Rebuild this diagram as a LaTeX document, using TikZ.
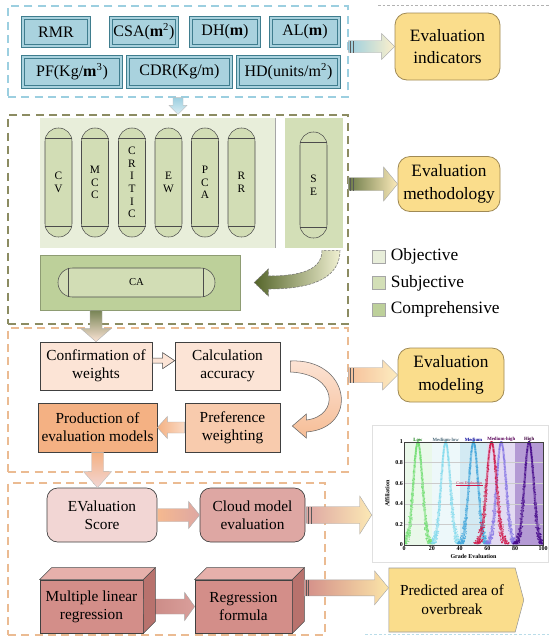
\documentclass[tikz,border=0pt]{standalone}
\usepackage{fontspec}
\setmainfont{Liberation Serif}
\usetikzlibrary{calc,shapes.symbols}
\definecolor{indfill}{HTML}{A9D2DE}
\definecolor{inddraw}{HTML}{3F7D8E}
\definecolor{bluedash}{HTML}{9CCFE0}
\definecolor{olivedash}{HTML}{8C8C62}
\definecolor{peachdash}{HTML}{EBBB92}
\definecolor{yel}{HTML}{FADD8C}
\definecolor{yeldraw}{HTML}{A08A55}
\definecolor{objfill}{HTML}{E8EEDA}
\definecolor{subfill}{HTML}{D3DFB7}
\definecolor{compfill}{HTML}{BDD09A}
\definecolor{capfill}{HTML}{D2DDB5}
\definecolor{lpeach}{HTML}{FCE4D6}
\definecolor{mpeach}{HTML}{F8CBAD}
\definecolor{dpeach}{HTML}{F4B183}
\definecolor{lpink}{HTML}{F2D6D4}
\definecolor{mpink}{HTML}{DEA7A3}
\definecolor{boxfront}{HTML}{D38E89}
\definecolor{boxtop}{HTML}{E6B0AB}
\definecolor{boxside}{HTML}{B8726D}
\definecolor{dolive}{HTML}{55652A}
\definecolor{band1}{HTML}{EAF8EA}
\definecolor{band2}{HTML}{EDF8FA}
\definecolor{band3}{HTML}{D3EAF3}
\definecolor{band4}{HTML}{E3DBF2}
\definecolor{band5}{HTML}{B49AD4}
\definecolor{cgreen}{HTML}{74E074}
\definecolor{ccyan}{HTML}{86DCEE}
\definecolor{cblue}{HTML}{45A8DC}
\definecolor{cred}{HTML}{D0184A}
\definecolor{clav}{HTML}{8878E6}
\definecolor{cpurp}{HTML}{480C8C}
\newcommand\hblockarrow[6]{%
  \path[#6] let \p1=#1, \p2=#2 in
   ({\x1},{\y1+#3*0.75pt}) -- ({\x2-(#5)*0.75pt},{\y1+#3*0.75pt}) -- ({\x2-(#5)*0.75pt},{\y1+#4*0.75pt}) -- ({\x2},{\y1}) -- ({\x2-(#5)*0.75pt},{\y1-#4*0.75pt}) -- ({\x2-(#5)*0.75pt},{\y1-#3*0.75pt}) -- ({\x1},{\y1-#3*0.75pt}) -- cycle;}
\newcommand\vblockarrow[6]{%
  \path[#6] let \p1=#1, \p2=#2 in
   ({\x1-#3*0.75pt},{\y1}) -- ({\x1-#3*0.75pt},{\y2+(#5)*0.75pt}) -- ({\x1-#4*0.75pt},{\y2+(#5)*0.75pt}) -- ({\x1},{\y2}) -- ({\x1+#4*0.75pt},{\y2+(#5)*0.75pt}) -- ({\x1+#3*0.75pt},{\y2+(#5)*0.75pt}) -- ({\x1+#3*0.75pt},{\y1}) -- cycle;}
\newcommand\arrowbars[2]{%
  \draw[black!65, line width=0.5pt] let \p1=#1 in ({\x1+1.2pt},{\y1-#2*0.75pt}) -- ({\x1+1.2pt},{\y1+#2*0.75pt}) ({\x1+3.2pt},{\y1-#2*0.75pt}) -- ({\x1+3.2pt},{\y1+#2*0.75pt});}
\begin{document}
\begin{tikzpicture}[x=0.75pt,y=-0.75pt,
  sz/.style 2 args={minimum width=#1*0.75pt, minimum height=#2*0.75pt},
  frame/.style={dash pattern=on 6pt off 4pt, line width=0.9pt, inner sep=0pt},
  ind/.style={draw=inddraw, double=indfill, double distance=2pt, line width=0.5pt, fill=indfill, inner sep=0pt, font=\fontsize{12}{14}\selectfont},
  yelbox/.style={draw=yeldraw, fill=yel, rounded corners=9pt, line width=0.6pt, align=center, inner sep=0pt, font=\fontsize{13}{17}\selectfont},
  capsule/.style={draw=black!70, fill=capfill, rounded corners=10pt, sz={27}{109}, inner sep=0pt, line width=0.4pt, align=center, font=\fontsize{8.5}{9.5}\selectfont},
  legsq/.style={draw=black!35, sz={13}{13}, inner sep=0pt},
  legtxt/.style={anchor=west, inner sep=0pt, font=\fontsize{13}{15}\selectfont},
  proc/.style={draw=black!75, line width=0.5pt, inner sep=0pt, align=center, font=\fontsize{11.5}{13.5}\selectfont},
  ticklab/.style={inner sep=0.6pt, font=\fontsize{4.5}{5}\selectfont\bfseries},
  toplab/.style={inner sep=0.4pt, font=\fontsize{3.6}{4}\selectfont\bfseries}]
\useasboundingbox (0,0) rectangle (549,637);
\fill[white] (0,0) rectangle (549,637);
% faint outer remnants
\draw[black!30, dash pattern=on 2pt off 1.5pt, line width=0.4pt] (378,5) -- (549,5);
\draw[bluedash!70, dash pattern=on 2pt off 1.5pt, line width=0.6pt] (365,634) -- (549,634);
% frames
\node[frame, draw=bluedash, sz={340}{91}] (box1) at (178,51.5) {};
\node[frame, draw=olivedash, sz={340}{209}] (box2) at (178,219.5) {};
\node[frame, draw=peachdash, sz={340}{144}] (box3) at (178,400) {};
\node[frame, draw=peachdash, sz={317}{152}] (box4) at (166.5,559) {};
% indicators
\node[ind, sz={66}{28}] (rmr) at (56,32) {RMR};
\node[ind, sz={66}{28}] (csa) at (144,32) {CSA(\textbf{m}\textsuperscript{2})};
\node[ind, sz={68}{28}] (dh) at (225,32) {DH(\textbf{m})};
\node[ind, sz={68}{28}] (al) at (305,32) {AL(\textbf{m})};
\node[ind, sz={98}{30}] (pf) at (72,72) {PF(Kg/\textbf{m}\textsuperscript{3})};
\node[ind, sz={103}{30}] (cdr) at (179.5,72) {CDR(Kg/m)};
\node[ind, sz={101}{30}] (hd) at (288.5,72) {HD(units/m\textsuperscript{2})};
% yellow result boxes
\node[yelbox, sz={105}{67}] (evind) at (447.5,46.5) {Evaluation\\indicators};
\node[yelbox, sz={102}{55}] (evmeth) at (449,184) {Evaluation\\methodology};
\node[yelbox, sz={106}{54}] (evmod) at (451,375) {Evaluation\\modeling};
% methodology panels
\node[fill=objfill, inner sep=0pt, sz={235}{130}] (objpanel) at (157.5,183) {};
\draw[black!35, line width=0.4pt] (objpanel.north east) -- (objpanel.south east);
\node[fill=subfill, inner sep=0pt, sz={58}{130}] (sepanel) at (314,183) {};
\node[fill=compfill, draw=compfill!75!black, line width=0.4pt, inner sep=0pt, sz={200}{55}] (capanel) at (140,282.5) {};
\foreach \nm/\cx/\txt in {cv/58.5/{C\\V}, mcc/95/{M\\C\\C}, critic/132/{C\\R\\I\\T\\I\\C}, ew/168.5/{E\\W}, pca/205/{P\\C\\A}, rr/241.5/{R\\R}}{
  \node[capsule] (\nm) at (\cx,182.5) {\txt};
  \draw[black!70, line width=0.4pt] ([yshift=-8.25pt]\nm.north west) -- ([yshift=-8.25pt]\nm.north east)
     ([yshift=8.25pt]\nm.south west) -- ([yshift=8.25pt]\nm.south east);
}
\node[capsule, sz={27}{106}] (se) at (313.5,185) {S\\E};
\draw[black!70, line width=0.4pt] ([yshift=-8.25pt]se.north west) -- ([yshift=-8.25pt]se.north east)
     ([yshift=8.25pt]se.south west) -- ([yshift=8.25pt]se.south east);
\node[capsule, sz={157}{29}, rounded corners=10.8pt, font=\fontsize{8}{9}\selectfont] (ca) at (136.5,282.5) {CA};
\draw[black!70, line width=0.4pt] ([xshift=8pt]ca.north west) -- ([xshift=8pt]ca.south west)
     ([xshift=-9pt]ca.north east) -- ([xshift=-9pt]ca.south east);
% curved arrow SE -> CA
\shade[left color=dolive, right color=white!88!olive, draw=black!55, dash pattern=on 2pt off 1pt, line width=0.4pt]
  ($(sepanel.south)+(8,2)$) .. controls (322,268) and (305,276) .. ($(capanel.east)+(28,-6.5)$)
  -- ($(capanel.east)+(28,-13.5)$) -- ($(capanel.east)+(14,0)$) -- ($(capanel.east)+(28,13.5)$)
  -- ($(capanel.east)+(28,6.5)$) .. controls (318,289) and (340,275) .. ($(sepanel.south)+(26,2)$) -- cycle;
% legend
\node[legsq, fill=objfill] (lobj) at (378.5,256.5) {};
\node[legtxt] (tobj) at ([xshift=4pt]lobj.east) {Objective};
\node[legsq, fill=subfill] (lsub) at (378.5,283) {};
\node[legtxt] (tsub) at ([xshift=4pt]lsub.east) {Subjective};
\node[legsq, fill=compfill] (lcomp) at (378.5,309.5) {};
\node[legtxt] (tcomp) at ([xshift=4pt]lcomp.east) {Comprehensive};
% modeling
\node[proc, fill=lpeach, sz={112}{48}] (conf) at (96,366) {Confirmation of\\weights};
\node[proc, fill=lpeach, sz={105}{48}] (calc) at (227.5,366) {Calculation\\accuracy};
\node[proc, fill=dpeach, sz={119}{49}] (prod) at (97.5,427.5) {Production of\\evaluation models};
\node[proc, fill=mpeach, sz={95}{49}] (pref) at (232.5,427.5) {Preference\\weighting};
\hblockarrow{([yshift=4pt]conf.east)}{([yshift=4pt]calc.west)}{2.5}{8}{12}{fill=lpeach, draw=black!70, line width=0.4pt}
\shade[top color=lpeach, bottom color=dpeach!85, draw=black!60, line width=0.4pt]
  ($(calc.east)+(10,-5)$) .. controls (350,358) and (360,428) .. ($(pref.east)+(26,4.5)$)
  -- ($(pref.east)+(26,10.5)$) -- ($(pref.east)+(12,-1.5)$) -- ($(pref.east)+(26,-13.5)$)
  -- ($(pref.east)+(26,-7.5)$) .. controls (340,416) and (338,374) .. ($(calc.east)+(10,6)$) -- cycle;
\hblockarrow{(pref.west)}{(prod.east)}{5.5}{11}{-10}{left color=dpeach, right color=mpeach!70!white, draw=black!30, line width=0.3pt}
% box4 content
\node[proc, fill=lpink, rounded corners=8pt, sz={110}{54}] (score) at (102,515) {EValuation\\Score};
\node[proc, fill=mpink, rounded corners=8pt, sz={105}{54}] (cloud) at (252.5,515) {Cloud model\\evaluation};
\node[proc, fill=boxfront, sz={103}{53}] (mlr) at (91.5,606.5) {Multiple linear\\regression};
\node[proc, fill=boxfront, sz={97}{53}] (rf) at (243.5,606.5) {Regression\\formula};
\hblockarrow{(score.east)}{(cloud.west)}{6.5}{13.5}{11}{left color=dpeach!90, right color=mpink, draw=black!30, line width=0.3pt}
\hblockarrow{(mlr.east)}{(rf.west)}{7.5}{14}{10}{left color=boxfront!95!black, right color=boxfront!85!white, draw=black!35, line width=0.3pt}
\foreach \bx in {mlr,rf}{
  \filldraw[fill=boxtop, draw=black!70, line width=0.4pt] (\bx.north west) -- ++(12,-12) -- ($(\bx.north east)+(12,-12)$) -- (\bx.north east) -- cycle;
  \filldraw[fill=boxside, draw=black!70, line width=0.4pt] (\bx.north east) -- ++(12,-12) -- ($(\bx.south east)+(12,-12)$) -- (\bx.south east) -- cycle;
}
\node[signal, signal to=east, signal pointer angle=150, fill=yel, draw=black!40, line width=0.4pt, inner sep=0pt, sz={135}{64}, align=center, font=\fontsize{11.5}{14}\selectfont] (pred) at (452,600) {Predicted area of\\overbreak};
% chart
\node[draw=black!12, fill=white, inner sep=0pt, sz={176}{137}] (chart) at (460,493.5) {};
\begin{scope}[shift={(404,545)}, x=1.0425pt, y=77.25pt]
  \fill[band1] (0,0) rectangle (20,1);
  \fill[band2] (20,0) rectangle (40,1);
  \fill[band3] (40,0) rectangle (60,1);
  \fill[band4] (60,0) rectangle (80,1);
  \fill[band5] (80,0) rectangle (100,1);
  \foreach \g in {0.2,0.4,0.6,0.8} \draw[black!20, line width=0.2pt] (0,\g) -- (100,\g);
  \begin{scope}
    \clip (0,-0.02) rectangle (100,1.02);
    \pgfmathsetseed{11}
    \foreach \ex/\en/\he/\col in {10/3.3/0.8/cgreen, 30/3.3/0.8/ccyan, 50/3.3/0.8/cblue, 70/3.4/0.8/clav, 63/3.6/1.0/cred, 90/3.3/0.8/cpurp}{
      \draw[\col, line width=1.6pt, opacity=0.55, domain=-3:3, samples=60] plot ({\ex+\en*\x},{exp(-\x*\x/2)});
      \foreach \i in {1,...,420}{
        \pgfmathsetmacro\cdt{3*rand}
        \pgfmathsetmacro\cdx{\ex+(\en+\he*rand)*\cdt}
        \pgfmathsetmacro\cdy{exp(-\cdt*\cdt/2)}
        \fill[\col, opacity=0.8] (\cdx,\cdy) circle[radius=0.5pt];
      }
    }
  \end{scope}
  \draw[black!75, line width=0.4pt] (0,0) rectangle (100,1);
  \foreach \v in {0,20,40,60,80,100} \node[ticklab, below] at (\v,0) {\v};
  \foreach \v in {0,0.2,0.4,0.6,0.8,1} \node[ticklab, left] at (0,\v) {\v};
  \node[ticklab, rotate=90] at (-12,0.5) {Affiliation};
  \node[ticklab] at (50,-0.11) {Grade Evaluation};
  \node[toplab, above, text=green!45!black] at (10,1) {Low};
  \node[toplab, above, text=cyan!40!black] at (30,1) {Medium-low};
  \node[toplab, above, text=blue!60!black] at (50,1) {Medium};
  \node[toplab, above, text=violet!70!black] at (70,1) {Medium-high};
  \node[toplab, above, text=violet!50!black] at (90,1) {High};
  \node[inner sep=0.3pt, font=\fontsize{3}{3}\selectfont, text=cred] (costlab) at (47,0.6) {Cost Evaluation};
  \draw[cred, line width=0.2pt] (costlab.south west) -- (costlab.south east);
\end{scope}
% block arrows to results
\hblockarrow{(box1.east |- evind.west)}{(evind.west)}{6}{13}{13}{left color=bluedash, right color=yel!45!white, draw=black!35, line width=0.3pt}
\arrowbars{(box1.east |- evind.west)}{6}
\hblockarrow{(box2.east |- evmeth.west)}{(evmeth.west)}{6.5}{17}{14}{left color=dolive!85, right color=yel!60!white, draw=black!35, line width=0.3pt}
\arrowbars{(box2.east |- evmeth.west)}{6.5}
\hblockarrow{(box3.east |- evmod.west)}{(evmod.west)}{7.5}{15}{15}{left color=dpeach!80, right color=yel!55!white, draw=black!35, line width=0.3pt}
\arrowbars{(box3.east |- evmod.west)}{7.5}
\hblockarrow{([xshift=1pt]cloud.east)}{(chart.west |- cloud.east)}{8.5}{19}{12}{left color=mpink, right color=yel!65!white, draw=black!35, line width=0.3pt}
\arrowbars{([xshift=1pt]cloud.east)}{8.5}
\hblockarrow{([xshift=9pt,yshift=14pt]rf.east)}{(pred.west)}{8}{17}{14}{left color=boxfront, right color=yel!75!white, draw=black!35, line width=0.3pt}
\arrowbars{([xshift=9pt,yshift=14pt]rf.east)}{8}
% vertical arrows between stages
\vblockarrow{(box1.south)}{(box1.south |- box2.north)}{5}{9}{9}{top color=bluedash, bottom color=bluedash!35!white, draw=black!25, line width=0.3pt}
\vblockarrow{(conf.north |- capanel.south)}{(conf.north)}{6}{15}{13}{top color=dolive!80, bottom color=lpeach, draw=black!30, line width=0.3pt}
\vblockarrow{(prod.south)}{(prod.south |- score.north)}{6}{14}{16}{top color=dpeach, bottom color=lpink, draw=black!25, line width=0.3pt}
\end{tikzpicture}
\end{document}
